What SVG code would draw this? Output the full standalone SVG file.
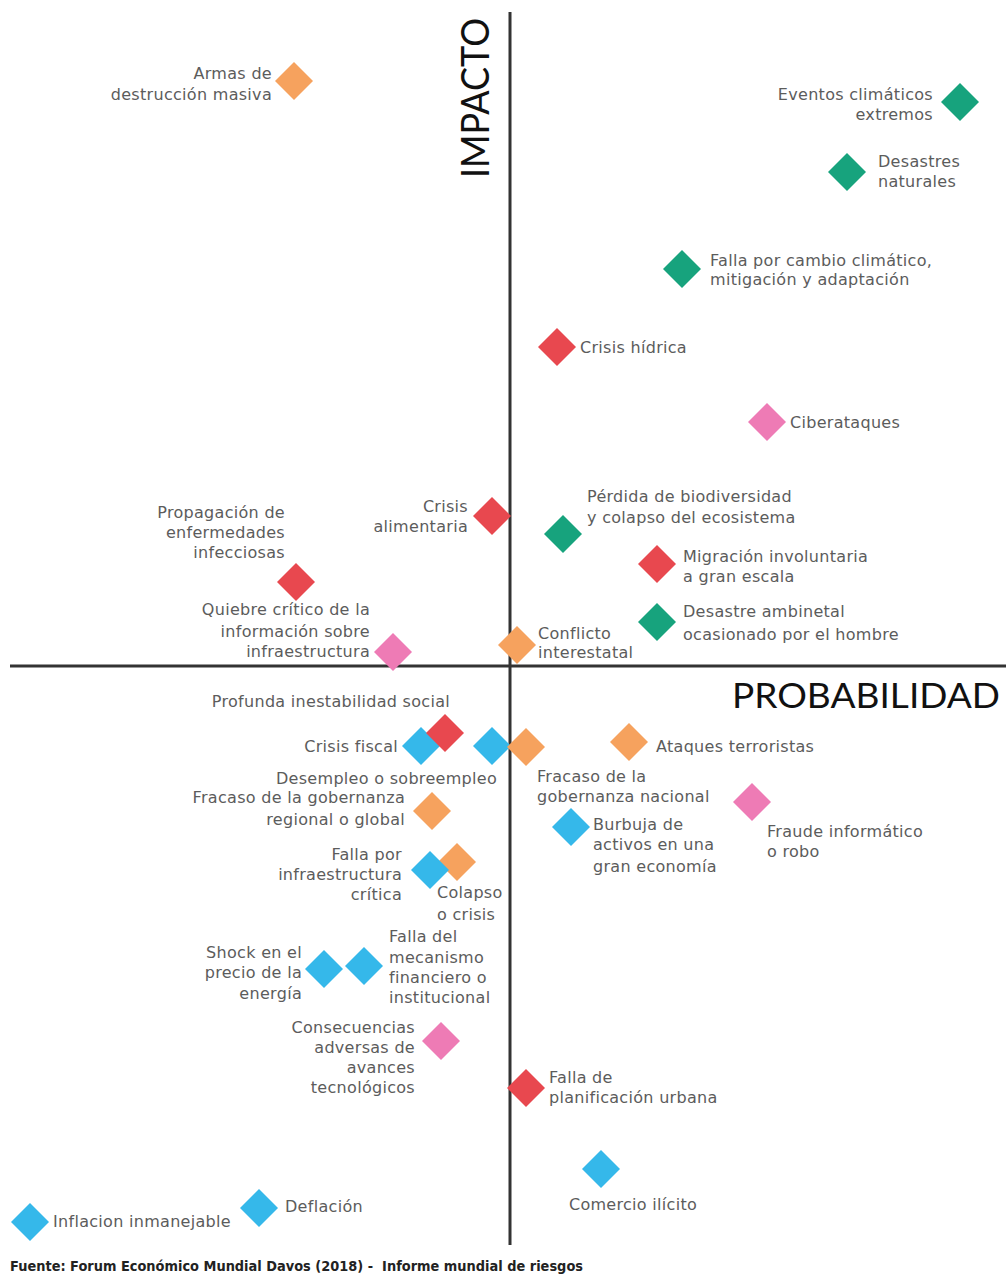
<svg xmlns="http://www.w3.org/2000/svg" xmlns:xlink="http://www.w3.org/1999/xlink" width="1006" height="1283" viewBox="0 0 1006 1283">
<defs>
<style>
.lbl{font-family:"DejaVu Sans","Liberation Sans",sans-serif;font-size:16px;letter-spacing:0.3px;fill:#5c5c5c}
.e{text-anchor:end}
.m{text-anchor:middle}
.axis{stroke:#333;stroke-width:3;fill:none}
.ttl{font-family:Lato,"DejaVu Sans",sans-serif;fill:#111}
.or{fill:#F6A25E}.gr{fill:#17A37D}.rd{fill:#E8484F}.pk{fill:#EE7BB5}.bl{fill:#35B8EA}
.src{font-family:"DejaVu Sans","Liberation Sans",sans-serif;font-size:14px;font-weight:bold;fill:#222;white-space:pre}
</style>
<path id="dm" d="M0,-19 L19,0 L0,19 L-19,0Z"/>
</defs>
<rect width="1006" height="1283" fill="#fff"/>
<g id="axes">
<line class="axis" x1="510" y1="12" x2="510" y2="1245"/>
<line class="axis" x1="10" y1="666" x2="1006" y2="666"/>
<text class="ttl" font-size="38" transform="translate(489,178) rotate(-90)" textLength="160" lengthAdjust="spacingAndGlyphs">IMPACTO</text>
<text class="ttl" font-size="34" x="732" y="708" textLength="268" lengthAdjust="spacingAndGlyphs">PROBABILIDAD</text>
</g>
<g id="armas"><use xlink:href="#dm" x="294" y="81" class="or"/><text class="lbl e" x="272" y="79">Armas de</text><text class="lbl e" x="272" y="100">destrucción masiva</text></g>
<g id="eventos"><use xlink:href="#dm" x="960" y="102" class="gr"/><text class="lbl e" x="933" y="100">Eventos climáticos</text><text class="lbl e" x="933" y="120">extremos</text></g>
<g id="desastres"><use xlink:href="#dm" x="847" y="172" class="gr"/><text class="lbl" x="878" y="167">Desastres</text><text class="lbl" x="878" y="187">naturales</text></g>
<g id="cambio-climatico"><use xlink:href="#dm" x="682" y="269" class="gr"/><text class="lbl" x="710" y="266">Falla por cambio climático,</text><text class="lbl" x="710" y="285">mitigación y adaptación</text></g>
<g id="hidrica"><use xlink:href="#dm" x="557" y="347" class="rd"/><text class="lbl" x="580" y="353">Crisis hídrica</text></g>
<g id="ciberataques"><use xlink:href="#dm" x="767" y="422" class="pk"/><text class="lbl" x="790" y="428">Ciberataques</text></g>
<g id="alimentaria"><use xlink:href="#dm" x="492" y="516" class="rd"/><text class="lbl e" x="468" y="512">Crisis</text><text class="lbl e" x="468" y="532">alimentaria</text></g>
<g id="propagacion"><use xlink:href="#dm" x="296" y="582" class="rd"/><text class="lbl e" x="285" y="518">Propagación de</text><text class="lbl e" x="285" y="538">enfermedades</text><text class="lbl e" x="285" y="558">infecciosas</text></g>
<g id="quiebre"><use xlink:href="#dm" x="393" y="652" class="pk"/><text class="lbl e" x="370" y="615">Quiebre crítico de la</text><text class="lbl e" x="370" y="637">información sobre</text><text class="lbl e" x="370" y="657">infraestructura</text></g>
<g id="biodiversidad"><use xlink:href="#dm" x="563" y="534" class="gr"/><text class="lbl" x="587" y="502">Pérdida de biodiversidad</text><text class="lbl" x="587" y="523">y colapso del ecosistema</text></g>
<g id="migracion"><use xlink:href="#dm" x="657" y="564" class="rd"/><text class="lbl" x="683" y="562">Migración involuntaria</text><text class="lbl" x="683" y="582">a gran escala</text></g>
<g id="desastre-ambiental"><use xlink:href="#dm" x="657" y="622" class="gr"/><text class="lbl" x="683" y="617">Desastre ambinetal</text><text class="lbl" x="683" y="640">ocasionado por el hombre</text></g>
<g id="conflicto"><use xlink:href="#dm" x="517" y="645" class="or"/><text class="lbl" x="538" y="639">Conflicto</text><text class="lbl" x="538" y="658">interestatal</text></g>
<g id="fiscal"><use xlink:href="#dm" x="421" y="746" class="bl"/><text class="lbl e" x="398" y="752">Crisis fiscal</text></g>
<g id="inestabilidad"><use xlink:href="#dm" x="445" y="733" class="rd"/><text class="lbl e" x="450" y="707">Profunda inestabilidad social</text></g>
<g id="desempleo"><use xlink:href="#dm" x="492" y="746" class="bl"/><text class="lbl e" x="497" y="784">Desempleo o sobreempleo</text></g>
<g id="gobernanza-nacional"><use xlink:href="#dm" x="526" y="747" class="or"/><text class="lbl" x="537" y="782">Fracaso de la</text><text class="lbl" x="537" y="802">gobernanza nacional</text></g>
<g id="terroristas"><use xlink:href="#dm" x="629" y="742" class="or"/><text class="lbl" x="656" y="752">Ataques terroristas</text></g>
<g id="gobernanza-global"><use xlink:href="#dm" x="432" y="811" class="or"/><text class="lbl e" x="405" y="803">Fracaso de la gobernanza</text><text class="lbl e" x="405" y="825">regional o global</text></g>
<g id="fraude"><use xlink:href="#dm" x="752" y="802" class="pk"/><text class="lbl" x="767" y="837">Fraude informático</text><text class="lbl" x="767" y="857">o robo</text></g>
<g id="burbuja"><use xlink:href="#dm" x="571" y="827" class="bl"/><text class="lbl" x="593" y="830">Burbuja de</text><text class="lbl" x="593" y="850">activos en una</text><text class="lbl" x="593" y="872">gran economía</text></g>
<g id="colapso"><use xlink:href="#dm" x="457" y="862" class="or"/><text class="lbl" x="437" y="898">Colapso</text><text class="lbl" x="437" y="920">o crisis</text></g>
<g id="infraestructura"><use xlink:href="#dm" x="430" y="870" class="bl"/><text class="lbl e" x="402" y="860">Falla por</text><text class="lbl e" x="402" y="880">infraestructura</text><text class="lbl e" x="402" y="900">crítica</text></g>
<g id="shock"><use xlink:href="#dm" x="324" y="969" class="bl"/><text class="lbl e" x="302" y="958">Shock en el</text><text class="lbl e" x="302" y="978">precio de la</text><text class="lbl e" x="302" y="999">energía</text></g>
<g id="mecanismo"><use xlink:href="#dm" x="364" y="966" class="bl"/><text class="lbl" x="389" y="942">Falla del</text><text class="lbl" x="389" y="963">mecanismo</text><text class="lbl" x="389" y="983">financiero o</text><text class="lbl" x="389" y="1003">institucional</text></g>
<g id="consecuencias"><use xlink:href="#dm" x="441" y="1041" class="pk"/><text class="lbl e" x="415" y="1033">Consecuencias</text><text class="lbl e" x="415" y="1053">adversas de</text><text class="lbl e" x="415" y="1073">avances</text><text class="lbl e" x="415" y="1093">tecnológicos</text></g>
<g id="planificacion"><use xlink:href="#dm" x="526" y="1088" class="rd"/><text class="lbl" x="549" y="1083">Falla de</text><text class="lbl" x="549" y="1103">planificación urbana</text></g>
<g id="comercio"><use xlink:href="#dm" x="601" y="1169" class="bl"/><text class="lbl m" x="633" y="1210">Comercio ilícito</text></g>
<g id="deflacion"><use xlink:href="#dm" x="259" y="1208" class="bl"/><text class="lbl" x="285" y="1212">Deflación</text></g>
<g id="inflacion"><use xlink:href="#dm" x="30" y="1222" class="bl"/><text class="lbl" x="53" y="1227">Inflacion inmanejable</text></g>
<text class="src" x="10" y="1271" textLength="573" lengthAdjust="spacingAndGlyphs">Fuente: Forum Económico Mundial Davos (2018) -  Informe mundial de riesgos</text>
</svg>
